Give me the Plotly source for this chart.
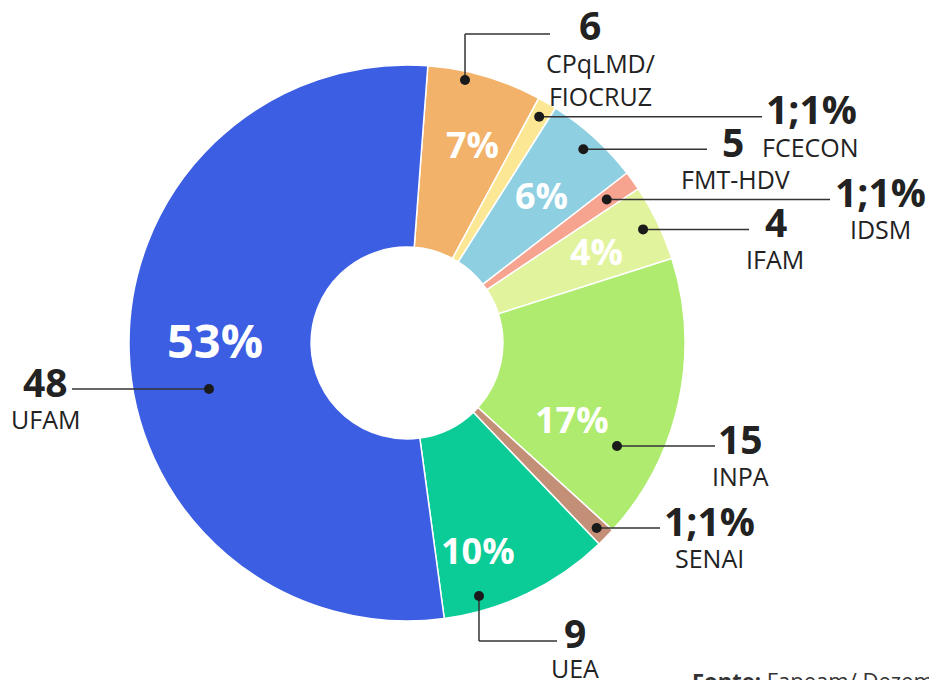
import math
import plotly.graph_objects as go

W, H = 937, 680
OFF = 8  # the page body adds an 8px margin, positions below are window pixels

# Data (clockwise from the top)
institutions = ["CPqLMD/<br>FIOCRUZ", "FCECON", "FMT-HDV", "IDSM", "IFAM", "INPA", "SENAI", "UEA", "UFAM"]
counts = [6, 1, 5, 1, 4, 15, 1, 9, 48]
count_labels = ["6", "1;1%", "5", "1;1%", "4", "15", "1;1%", "9", "48"]
slice_colors = ["#F2B26A", "#FCE794", "#8ECFE1", "#F6A390", "#E2F39E",
                "#AEEB6F", "#C48F77", "#0BCB97", "#3B5EE2"]

total = sum(counts)
pct_text = [f"{round(v / total * 100)}%" if v > 1 else "" for v in counts]

DARK = "#222222"
cx, cy, r = 407, 343, 278
ROT = 4.3

# middle angle of every slice (degrees clockwise from 12 o'clock)
mids = []
acc = ROT
for v in counts:
    span = v / total * 360
    mids.append(acc + span / 2)
    acc += span


def polar(i, rad):
    a = math.radians(mids[i])
    return cx + rad * math.sin(a), cy - rad * math.cos(a)


def px(x):
    return (x - OFF) / W


def py(y):
    return 1 - (y - OFF) / H


fig = go.Figure(
    go.Pie(
        labels=institutions,
        values=counts,
        sort=False,
        direction="clockwise",
        rotation=ROT,
        hole=0.345,
        marker=dict(colors=slice_colors, line=dict(color="white", width=1.5)),
        textinfo="none",
        domain=dict(x=[px(cx - r), px(cx + r)], y=[py(cy + r), py(cy - r)]),
        showlegend=False,
        hoverinfo="label+value+percent",
    )
)

# percentage labels inside the ring
pct_pos = [(472, 145), None, polar(2, 200), None, polar(4, 210),
           (572, 420), None, (478, 550), (215, 340)]
for t, pos, v in zip(pct_text, pct_pos, counts):
    if pos is None:
        continue
    fig.add_annotation(x=px(pos[0]), y=py(pos[1]), xref="paper", yref="paper",
                       xanchor="center", yanchor="middle", text=f"<b>{t}</b>", showarrow=False,
                       font=dict(family="Open Sans", size=47 if v > 40 else 36, color="white"))

# leader lines: dot, path, and label x positions (pixels)
leaders = [
    dict(dot=(465, 80), path=[(465, 34), (550, 34)], num=(590, 24), name=(600, 80)),
    dict(dot=polar(1, 262), end=762, num_x=811, name_x=810),
    dict(dot=polar(2, 262), end=707, num_x=733, name_x=735),
    dict(dot=polar(3, 246), end=830, num_x=880, name_x=880),
    dict(dot=polar(4, 262), end=749, num_x=776, name_x=775),
    dict(dot=(617, 446), end=715, num_x=740, name_x=740),
    dict(dot=polar(6, 265), end=660, num_x=709, name_x=709),
    dict(dot=(479, 596), path=[(479, 641), (557, 641)], num=(575, 632), name=(575, 668)),
    dict(dot=(209, 389), end=72, num_x=45, name_x=45),
]

for item, num, name in zip(leaders, count_labels, institutions):
    dx, dy = item["dot"]
    if "path" in item:
        pts = [(dx, dy)] + item["path"]
        num_pos, name_pos = item["num"], item["name"]
    else:
        pts = [(dx, dy), (item["end"], dy)]
        num_pos, name_pos = (item["num_x"], dy - 8), (item["name_x"], dy + 30)
    for (x0, y0), (x1, y1) in zip(pts[:-1], pts[1:]):
        fig.add_shape(type="line", xref="paper", yref="paper",
                      x0=px(x0), y0=py(y0), x1=px(x1), y1=py(y1),
                      line=dict(color="#333333", width=1.5))
    fig.add_shape(type="circle", xref="paper", yref="paper",
                  x0=px(dx - 5), x1=px(dx + 5), y0=py(dy + 5), y1=py(dy - 5),
                  fillcolor="#1a1a1a", line=dict(width=0))
    fig.add_annotation(x=px(num_pos[0]), y=py(num_pos[1]), xref="paper", yref="paper",
                       xanchor="center", yanchor="middle",
                       text=f"<b>{num}</b>", showarrow=False,
                       font=dict(family="Open Sans", size=39, color=DARK))
    fig.add_annotation(x=px(name_pos[0]), y=py(name_pos[1]), xref="paper", yref="paper",
                       xanchor="center", yanchor="middle",
                       text=name, showarrow=False, align="center",
                       font=dict(family="Open Sans", size=25, color=DARK))

# source line, cut by the bottom edge
fig.add_annotation(x=px(690), y=py(680), xref="paper", yref="paper",
                   xanchor="left", yanchor="middle",
                   text="<b>Fonte:</b> Fapeam/ Dezembro", showarrow=False,
                   font=dict(family="Open Sans", size=22, color="#333333"))

fig.update_layout(
    width=W,
    height=H,
    margin=dict(l=0, r=0, t=0, b=0),
    paper_bgcolor="white",
    plot_bgcolor="white",
)

fig.write_html("out.html")
